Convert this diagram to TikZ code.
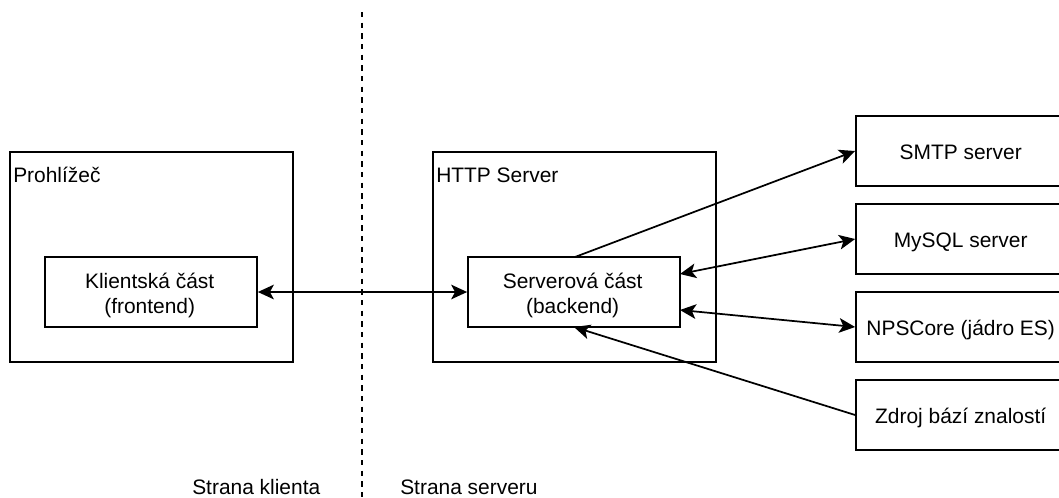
\documentclass[tikz,border=0pt]{standalone}
\usepackage{fontspec}
\setmainfont{Liberation Sans}
\usetikzlibrary{arrows.meta}
\newcommand{\tx}[1]{\hspace*{-2pt}\raisebox{-6.6pt}[0pt][0pt]{\begin{tabular}{@{}c@{}}#1\end{tabular}}}
\tikzset{
 px/.style={x=0.75pt,y=-0.75pt},
 tip/.tip={Stealth[length=12pt,width=11pt,inset=3pt]},
 boxn/.style={draw=black,line width=1.3pt,inner sep=0pt,font=\fontsize{15.7pt}{18.6pt}\selectfont},
 lab/.style={inner sep=0pt,font=\fontsize{15.7pt}{18.4pt}\selectfont,anchor=base west},
 conn/.style={line width=1.3pt,{tip}-{tip}},
 one/.style={line width=1.3pt,-{tip}},
}
\begin{document}
\begin{tikzpicture}[px]
\useasboundingbox (0,0) rectangle (1059,497);
\newcommand{\bx}[6]{\node[boxn,minimum width=#4*0.75pt,minimum height=#5*0.75pt] (#1) at (#2+#4/2,#3+#5/2) {#6};}
\bx{prohl}{10}{152}{283}{210}{}
\bx{http}{433}{152}{283}{210}{}
\bx{klient}{45}{257}{212}{70}{\tx{Klientská část\\(frontend)}}
\bx{server}{468}{257}{212}{70}{\tx{Serverová část\\(backend)}}
\bx{smtp}{856}{116}{212}{70}{\tx{SMTP server}}
\bx{mysql}{856}{204}{212}{70}{\tx{MySQL server}}
\bx{nps}{856}{292}{212}{70}{\tx{NPSCore (jádro ES)}}
\bx{zdroj}{856}{380}{212}{70}{\tx{Zdroj bází znalostí}}
\node[lab] (tp) at (13,182) {Prohlížeč};
\node[lab] (th) at (436,182) {HTTP Server};
\node[lab] (tk) at (192,494) {Strana klienta};
\node[lab] (ts) at (400,494) {Strana serveru};
\coordinate (dtop) at (362,12);
\coordinate (dbot) at (362,497);
\draw[line width=1.6pt,dash pattern=on 4pt off 4pt] (dtop) -- (dbot);
\draw[conn] (klient.east) -- (server.west);
\coordinate (s1) at (575,257);
\draw[one] (s1) -- (smtp.west);
\coordinate (s2) at (680,274);
\draw[conn] (s2) -- (mysql.west);
\coordinate (s3) at (680,310);
\draw[conn] (s3) -- (nps.west);
\coordinate (s4) at (574,327);
\draw[one] (zdroj.west) -- (s4);
\end{tikzpicture}
\end{document}
